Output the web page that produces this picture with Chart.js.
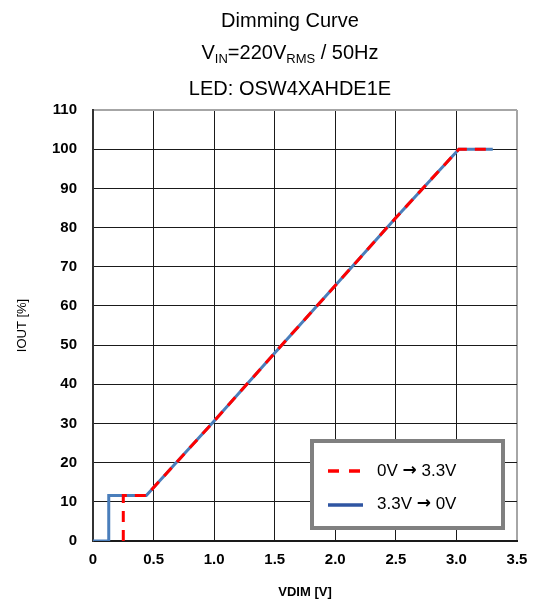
<!DOCTYPE html>
<html>
<head>
<meta charset="utf-8">
<script src="https://cdn.jsdelivr.net/npm/chart.js@4.4.1/dist/chart.umd.min.js"></script>
<style>
  html, body { margin: 0; padding: 0; background: #fff; }
  canvas { display: block; }
</style>
</head>
<body>
<canvas id="dimChart" width="541" height="608"></canvas>
<script>
// ---- data ----
const upX   = [0.25, 0.25, 0.44, 1.0, 1.5, 2.0, 2.5, 3.02, 3.3];
const upY   = [0, 11.6, 11.6, 30.6, 48.0, 65.2, 82.5, 100, 100];
const downX = [0, 0.13, 0.13, 0.44, 1.0, 1.5, 2.0, 2.5, 3.02, 3.3];
const downY = [0, 0, 11.6, 11.6, 30.6, 48.0, 65.2, 82.5, 100, 100];

const seriesNames = [["0V", "3.3V"], ["3.3V", "0V"]];
const xTicks = [0, 0.5, 1, 1.5, 2, 2.5, 3, 3.5];
const yTicks = [0, 10, 20, 30, 40, 50, 60, 70, 80, 90, 100, 110];

const RED = "#ff0000";
const BLUE = "#4a7ebb";
const FONT = "'Liberation Sans', Arial, sans-serif";

function toPoints(xs, ys) {
    return xs.map((x, i) => ({ x: x, y: ys[i] }));
}

// draws "A → B" with a bigger arrow glyph
function drawArrowLabel(c, pair, x, y) {
    c.font = "17px " + FONT;
    c.fillText(pair[0] + " ", x, y);
    x += c.measureText(pair[0] + " ").width;
    c.font = "bold 17px 'DejaVu Sans', sans-serif";
    c.fillText("\u2192", x, y);
    x += c.measureText("\u2192").width;
    c.font = "17px " + FONT;
    c.fillText(" " + pair[1], x, y);
}

/* title with subscripts + legend box, drawn on the canvas */
const decorPlugin = {
    id: "decor",
    afterDraw(chart) {
        const c = chart.ctx;
        const cx = 290;
        c.save();
        c.fillStyle = "#000";
        c.textBaseline = "alphabetic";

        c.font = "20px " + FONT;
        c.textAlign = "center";
        c.fillText("Dimming Curve", cx, 27);
        c.fillText("LED: OSW4XAHDE1E", cx, 95);

        const parts = [
            { t: "V", sub: false },
            { t: "IN", sub: true },
            { t: "=220V", sub: false },
            { t: "RMS", sub: true },
            { t: " / 50Hz", sub: false }
        ];
        const big = "20px " + FONT, small = "13px " + FONT;
        let total = 0;
        parts.forEach(p => {
            c.font = p.sub ? small : big;
            p.w = c.measureText(p.t).width;
            total += p.w;
        });
        let x = cx - total / 2;
        c.textAlign = "left";
        parts.forEach(p => {
            c.font = p.sub ? small : big;
            c.fillText(p.t, x, p.sub ? 63 : 59);
            x += p.w;
        });

        // legend box
        const bx = 312, by = 441, bw = 191, bh = 87;
        c.fillStyle = "#fff";
        c.fillRect(bx, by, bw, bh);
        c.strokeStyle = "#808080";
        c.lineWidth = 4;
        c.strokeRect(bx, by, bw, bh);

        c.lineWidth = 3.5;
        c.strokeStyle = RED;
        c.setLineDash([11, 10]);
        c.beginPath();
        c.moveTo(328, 471);
        c.lineTo(363, 471);
        c.stroke();

        c.setLineDash([]);
        c.strokeStyle = "#2f55a2";
        c.beginPath();
        c.moveTo(328, 505);
        c.lineTo(363, 505);
        c.stroke();

        c.fillStyle = "#000";
        c.textBaseline = "middle";
        drawArrowLabel(c, seriesNames[0], 377, 471);
        drawArrowLabel(c, seriesNames[1], 377, 504);
        c.restore();
    }
};

const edgeColor = (edgeVal) => (ctx) =>
    ctx.tick && ctx.tick.value === edgeVal ? "#a6a6a6" : "#1a1a1a";
const edgeWidth = (edgeVal) => (ctx) =>
    ctx.tick && ctx.tick.value === edgeVal ? 2 : 1;

new Chart(document.getElementById("dimChart"), {
    type: "scatter",
    data: {
        datasets: [
            {
                label: seriesNames[0].join(" \u2192 "),
                data: toPoints(upX, upY),
                showLine: true,
                borderColor: RED,
                borderWidth: 3,
                borderDash: [11, 8],
                pointRadius: 0,
                tension: 0
            },
            {
                label: seriesNames[1].join(" \u2192 "),
                data: toPoints(downX, downY),
                showLine: true,
                borderColor: BLUE,
                borderWidth: 3,
                pointRadius: 0,
                tension: 0
            }
        ]
    },
    options: {
        responsive: false,
        animation: false,
        layout: { padding: { top: 110, right: 24, left: 0, bottom: 0 } },
        plugins: {
            legend: { display: false },
            tooltip: { enabled: false }
        },
        scales: {
            x: {
                type: "linear",
                min: 0,
                max: 3.5,
                afterBuildTicks: s => { s.ticks = xTicks.map(v => ({ value: v })); },
                afterFit: s => { s.height = 67; },
                ticks: {
                    autoSkip: false,
                    maxRotation: 0,
                    padding: 10,
                    color: "#000",
                    font: { family: FONT, size: 15, weight: "bold" }
                },
                grid: { color: edgeColor(3.5), lineWidth: edgeWidth(3.5), drawTicks: false },
                border: { color: "#1a1a1a", width: 2 },
                title: {
                    display: true,
                    text: "VDIM [V]",
                    color: "#000",
                    font: { family: FONT, size: 13, weight: "bold" },
                    padding: { top: 0, bottom: 8 }
                }
            },
            y: {
                min: 0,
                max: 110,
                afterBuildTicks: s => { s.ticks = yTicks.map(v => ({ value: v })); },
                afterFit: s => { s.width = 93; },
                ticks: {
                    autoSkip: false,
                    padding: 16,
                    color: "#000",
                    font: { family: FONT, size: 15, weight: "bold" }
                },
                grid: { color: edgeColor(110), lineWidth: edgeWidth(110), drawTicks: false },
                border: { color: "#333", width: 2 },
                title: {
                    display: true,
                    text: "IOUT [%]",
                    color: "#000",
                    font: { family: FONT, size: 13 },
                    padding: { top: 15, bottom: 0 }
                }
            }
        }
    },
    plugins: [decorPlugin]
});
</script>
</body>
</html>
